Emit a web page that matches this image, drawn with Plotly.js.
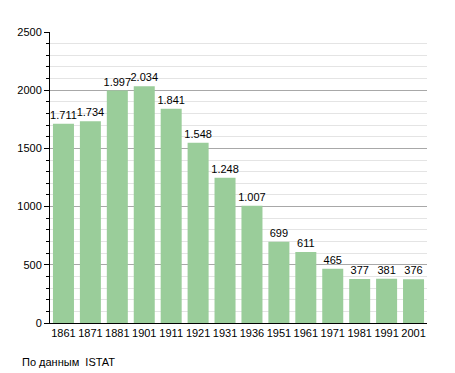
<!DOCTYPE html>
<html><head><meta charset="utf-8">
<script src="https://cdn.plot.ly/plotly-3.0.1.min.js"></script>
<style>html,body{margin:0;padding:0;background:#fff}#chart{width:455px;height:373px}</style>
</head><body><div id="chart"></div>
<script>
const years = ["1861","1871","1881","1901","1911","1921","1931","1936","1951","1961","1971","1981","1991","2001"];
const population = [1711,1734,1997,2034,1841,1548,1248,1007,699,611,465,377,381,376];
const labels = ["1.711","1.734","1.997","2.034","1.841","1.548","1.248","1.007","699","611","465","377","381","376"];
const yTicks = [0,500,1000,1500,2000,2500];

Plotly.newPlot('chart', [{
  type:'bar', x:years, y:population, text:labels, textposition:'outside', constraintext:'none',
  textfont:{family:'Liberation Sans, Arial, sans-serif', size:11, color:'#000'},
  marker:{color:'#9acd9a'}, cliponaxis:false, hoverinfo:'none'
}], {
  width:455, height:373,
  margin:{l:50, r:28, t:32, b:50},
  bargap:0.22,
  paper_bgcolor:'#fff', plot_bgcolor:'#fff',
  font:{family:'Liberation Sans, Arial, sans-serif', size:11, color:'#000'},
  xaxis:{type:'category', showline:true, linecolor:'#000', linewidth:1, ticks:'', tickfont:{size:11}, fixedrange:true},
  yaxis:{range:[0,2500], tickvals:yTicks, ticktext:yTicks.map(String), showline:true, linecolor:'#000', linewidth:1,
    ticks:'outside', ticklen:5, tickcolor:'#000', gridcolor:'#a8a8a8', zeroline:false, tickfont:{size:11},
    minor:{dtick:100, showgrid:true, gridcolor:'#e4e4e4', ticks:'outside', ticklen:3, tickcolor:'#000'}},
  showlegend:false,
  annotations:[{text:'По данным  ISTAT', xref:'paper', yref:'paper', x:-0.08, y:-0.134, xanchor:'left', yanchor:'middle', showarrow:false,
    font:{size:11, color:'#000'}}]
}, {staticPlot:true});
</script></body></html>
